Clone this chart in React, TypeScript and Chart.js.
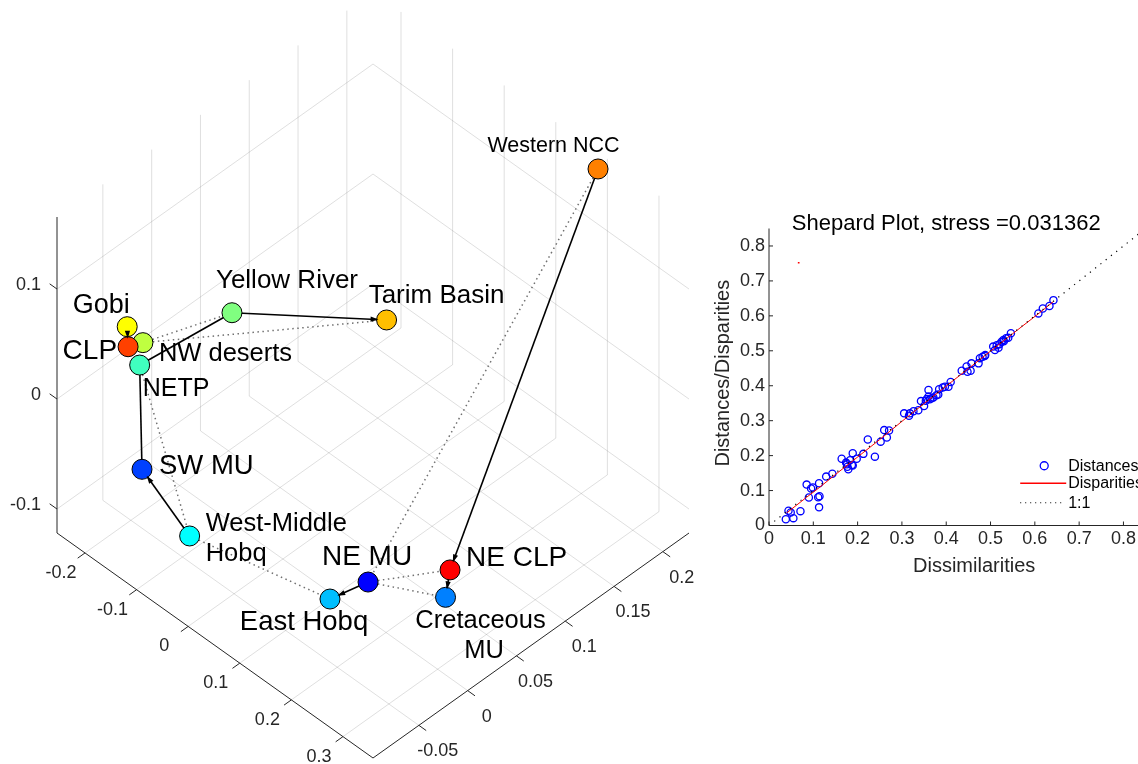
import React, { useEffect, useRef } from "react";
import { Chart, registerables } from "chart.js";
Chart.register(...registerables);

// ---------------- 3-D MDS configuration (left panel) ----------------
const siteNames = [
  "Gobi", "NW deserts", "CLP", "NETP", "Yellow River", "Tarim Basin", "Western NCC",
  "SW MU", "West-Middle Hobq", "East Hobq", "NE MU", "NE CLP", "Cretaceous MU",
];
const dim1 = [-0.16, -0.14, -0.15, -0.13, -0.12, -0.05, 0.19, -0.12, -0.05, 0.15, 0.16, 0.22, 0.23];
const dim2 = [-0.0749, -0.0694, -0.0793, -0.078, 0.0113, 0.1327, 0.2225, -0.0809, -0.0691, -0.031, 0.0027, 0.055, 0.0451];
const dim3 = [0.0833, 0.072, 0.0712, 0.0604, 0.0549, -0.005, 0.1557, -0.0292, -0.0739, -0.0885, -0.091, -0.093, -0.1083];

// links between sites (indices into siteNames)
const solidLinks = [[0, 2], [4, 3], [4, 5], [3, 7], [8, 7], [10, 9], [6, 11], [11, 12]];
const solidArrow = [true, false, true, false, true, true, true, true];
const dottedLinks = [[1, 4], [1, 5], [3, 8], [8, 9], [10, 11], [10, 12], [6, 10]];

const xTicks3d = [-0.2, -0.1, 0, 0.1, 0.2, 0.3];
const yTicks3d = [-0.05, 0, 0.05, 0.1, 0.15, 0.2];
const zTicks3d = [-0.1, 0, 0.1];
const xLim3d = [-0.2543, 0.3582];
const yLim3d = [-0.097, 0.2268];
const zLim3d = [-0.1218, 0.1655];

// styles
const siteColors = [
  "#FFFF00", "#BFFF40", "#FF4000", "#40FFBF", "#80FF80", "#FFBF00", "#FF8000",
  "#0040FF", "#00FFFF", "#00BFFF", "#0000FF", "#FF0000", "#0080FF",
];
const labelStyle: { size: number; align: CanvasTextAlign; wrap?: boolean; offs: number[][] }[] = [
  { size: 27, align: "center", offs: [[-26, -21]] },
  { size: 25.5, align: "left", offs: [[16, 11.5]] },
  { size: 28, align: "right", offs: [[-11, 5]] },
  { size: 25, align: "left", offs: [[3, 24]] },
  { size: 26, align: "center", offs: [[55, -32]] },
  { size: 26, align: "center", offs: [[50, -24]] },
  { size: 21.5, align: "center", offs: [[-44.5, -22.5]] },
  { size: 27.5, align: "left", offs: [[17, -3]] },
  { size: 25.5, align: "left", wrap: true, offs: [[16, -12.5], [16, 17.5]] },
  { size: 27.5, align: "center", offs: [[-26, 23]] },
  { size: 28, align: "center", offs: [[-1, -25]] },
  { size: 28, align: "left", offs: [[16, -12]] },
  { size: 25.5, align: "center", wrap: true, offs: [[35, 24], [38.5, 54]] },
];

// ---------------- Shepard plot (right panel) ----------------
const dissimilarities = [
  0.038, 0.044, 0.049, 0.055, 0.071, 0.085, 0.09, 0.095, 0.099, 0.111, 0.114, 0.113, 0.113,
  0.129, 0.143, 0.164, 0.174, 0.177, 0.179, 0.187, 0.189, 0.189, 0.198, 0.213, 0.223, 0.239,
  0.252, 0.26, 0.266, 0.271, 0.305, 0.316, 0.318, 0.326, 0.337, 0.343, 0.35, 0.354, 0.36,
  0.363, 0.367, 0.378, 0.382, 0.384, 0.392, 0.397, 0.405, 0.41, 0.435, 0.446, 0.448, 0.455,
  0.457, 0.473, 0.476, 0.482, 0.488, 0.506, 0.51, 0.514, 0.52, 0.525, 0.529, 0.535, 0.54,
  0.546, 0.608, 0.618, 0.633, 0.642, 0.518, 0.36, 0.371, 0.183, 0.487, 0.356, 0.176, 0.53,
];
const distances = [
  0.018, 0.042, 0.037, 0.021, 0.041, 0.117, 0.08, 0.106, 0.109, 0.081, 0.084, 0.052, 0.121,
  0.14, 0.148, 0.191, 0.18, 0.168, 0.161, 0.173, 0.207, 0.172, 0.191, 0.205, 0.246, 0.197,
  0.24, 0.273, 0.252, 0.272, 0.321, 0.314, 0.321, 0.327, 0.33, 0.356, 0.342, 0.357, 0.388,
  0.361, 0.364, 0.373, 0.375, 0.39, 0.395, 0.397, 0.397, 0.411, 0.443, 0.455, 0.44, 0.443,
  0.464, 0.464, 0.479, 0.483, 0.488, 0.512, 0.502, 0.516, 0.519, 0.526, 0.531, 0.536, 0.537,
  0.55, 0.607, 0.621, 0.628, 0.645, 0.509, 0.369, 0.366, 0.187, 0.485, 0.362, 0.175, 0.527,
];
const disparityX = [0.04, 0.085, 0.113, 0.15, 0.19, 0.25, 0.3, 0.35, 0.4, 0.45, 0.5, 0.55, 0.61, 0.642];
const disparityY = [0.036, 0.081, 0.108, 0.146, 0.186, 0.246, 0.298, 0.349, 0.399, 0.449, 0.499, 0.549, 0.608, 0.641];
const strayPoint = [0.067, 0.752];
const shepardLim = [0, 0.85];
const shepardXTicks = [0, 0.1, 0.2, 0.3, 0.4, 0.5, 0.6, 0.7, 0.8];
const shepardYTicks = [0, 0.1, 0.2, 0.3, 0.4, 0.5, 0.6, 0.7, 0.8];

const FONT = '"Liberation Sans", Arial, Helvetica, sans-serif';
const AXIS = "#262626";
const DEPTH = 225 / 316;

function proj(x: number, y: number, z: number) {
  const u = (x - xLim3d[0]) / (xLim3d[1] - xLim3d[0]);
  const v = (y - yLim3d[0]) / (yLim3d[1] - yLim3d[0]);
  const w = (z - zLim3d[0]) / (zLim3d[1] - zLim3d[0]);
  return { x: u + v, y: w + DEPTH * (v - u) };
}

function fmt(v: number) {
  if (Math.abs(v) < 1e-9) return "0";
  return String(v);
}

const frame3d = {
  id: "frame3d",
  beforeDatasetsDraw(chart: any) {
    const { ctx } = chart;
    const sx = chart.scales.x, sy = chart.scales.y;
    const P = (x: number, y: number, z: number) => {
      const p = proj(x, y, z);
      return [sx.getPixelForValue(p.x), sy.getPixelForValue(p.y)];
    };
    const line = (a: number[], b: number[]) => {
      ctx.beginPath();
      ctx.moveTo(a[0], a[1]);
      ctx.lineTo(b[0], b[1]);
      ctx.stroke();
    };
    const [x0, x1] = xLim3d, [y0, y1] = yLim3d, [z0, z1] = zLim3d;
    ctx.save();
    ctx.strokeStyle = "rgba(38,38,38,0.15)";
    ctx.lineWidth = 1;
    xTicks3d.forEach((t) => { line(P(t, y0, z0), P(t, y1, z0)); line(P(t, y1, z0), P(t, y1, z1)); });
    yTicks3d.forEach((t) => { line(P(x0, t, z0), P(x1, t, z0)); line(P(x0, t, z0), P(x0, t, z1)); });
    zTicks3d.forEach((t) => { line(P(x0, y0, t), P(x0, y1, t)); line(P(x0, y1, t), P(x1, y1, t)); });
    // axes
    ctx.strokeStyle = AXIS;
    ctx.lineWidth = 1;
    line(P(x0, y0, z0), P(x0, y0, z1));
    line(P(x0, y0, z0), P(x1, y0, z0));
    line(P(x1, y0, z0), P(x1, y1, z0));
    // ticks + labels
    ctx.fillStyle = AXIS;
    ctx.font = `18px ${FONT}`;
    ctx.textBaseline = "middle";
    const unit = (a: number[], b: number[], len: number) => {
      const dx = b[0] - a[0], dy = b[1] - a[1];
      const l = Math.hypot(dx, dy);
      return [(dx / l) * len, (dy / l) * len];
    };
    const dirMinusV = unit(P(x0, y1, z0), P(x0, y0, z0), 9);
    const dirPlusU = unit(P(x0, y0, z0), P(x1, y0, z0), 9);
    const dirMinusU = [-dirPlusU[0], -dirPlusU[1]];
    xTicks3d.forEach((t) => {
      const p = P(t, y0, z0);
      line(p, [p[0] + dirMinusV[0], p[1] + dirMinusV[1]]);
      ctx.textAlign = "center";
      ctx.fillText(fmt(t), p[0] - 24, p[1] + 20);
    });
    yTicks3d.forEach((t) => {
      const p = P(x1, t, z0);
      line(p, [p[0] + dirPlusU[0], p[1] + dirPlusU[1]]);
      ctx.textAlign = "center";
      ctx.fillText(fmt(t), p[0] + 19, p[1] + 26);
    });
    zTicks3d.forEach((t) => {
      const p = P(x0, y0, t);
      line(p, [p[0] + dirMinusU[0], p[1] + dirMinusU[1]]);
      ctx.textAlign = "right";
      ctx.fillText(fmt(t), p[0] - 16, p[1] - 4);
    });
    ctx.restore();
  },
  afterDatasetsDraw(chart: any) {
    const { ctx } = chart;
    const meta = chart.getDatasetMeta(0);
    const pix = meta.data.map((el: any) => [el.x, el.y]);
    ctx.save();
    // arrow heads
    ctx.fillStyle = "#000";
    solidLinks.forEach(([a, b], i) => {
      if (!solidArrow[i]) return;
      const p1 = pix[a], p2 = pix[b];
      const dx = p2[0] - p1[0], dy = p2[1] - p1[1];
      const l = Math.hypot(dx, dy);
      const ux = dx / l, uy = dy / l;
      const tip = [p2[0] - ux * 8, p2[1] - uy * 8];
      const base = [tip[0] - ux * 8, tip[1] - uy * 8];
      ctx.beginPath();
      ctx.moveTo(tip[0], tip[1]);
      ctx.lineTo(base[0] - uy * 2.6, base[1] + ux * 2.6);
      ctx.lineTo(base[0] + uy * 2.6, base[1] - ux * 2.6);
      ctx.closePath();
      ctx.fill();
    });
    // labels
    ctx.fillStyle = "#000";
    ctx.textBaseline = "middle";
    siteNames.forEach((name, i) => {
      const st = labelStyle[i];
      const parts = st.wrap ? [name.slice(0, name.lastIndexOf(" ")), name.slice(name.lastIndexOf(" ") + 1)] : [name];
      ctx.font = `${st.size}px ${FONT}`;
      ctx.textAlign = st.align;
      parts.forEach((txt, k) => {
        ctx.fillText(txt, pix[i][0] + st.offs[k][0], pix[i][1] + st.offs[k][1]);
      });
    });
    ctx.restore();
  },
};

const shepardFrame = {
  id: "shepardFrame",
  afterDatasetsDraw(chart: any) {
    const { ctx, chartArea } = chart;
    const sx = chart.scales.x, sy = chart.scales.y;
    const L = chartArea.left, B = chartArea.bottom;
    ctx.save();
    ctx.strokeStyle = AXIS;
    ctx.lineWidth = 1;
    ctx.beginPath();
    ctx.moveTo(L, chartArea.top);
    ctx.lineTo(L, B);
    ctx.lineTo(chartArea.right, B);
    ctx.stroke();
    ctx.fillStyle = AXIS;
    ctx.font = `18px ${FONT}`;
    ctx.textBaseline = "middle";
    shepardXTicks.forEach((t) => {
      const px = sx.getPixelForValue(t);
      ctx.beginPath(); ctx.moveTo(px, B); ctx.lineTo(px, B - 4); ctx.stroke();
      ctx.textAlign = "center";
      ctx.fillText(fmt(t), px, B + 14);
    });
    shepardYTicks.forEach((t) => {
      const py = sy.getPixelForValue(t);
      ctx.beginPath(); ctx.moveTo(L, py); ctx.lineTo(L + 4, py); ctx.stroke();
      ctx.textAlign = "right";
      ctx.fillText(fmt(t), L - 4, py);
    });
    // titles
    ctx.fillStyle = "#000";
    ctx.font = `22px ${FONT}`;
    ctx.textAlign = "center";
    ctx.fillText("Shepard Plot, stress =0.031362", sx.getPixelForValue(0.4), chartArea.top - 5);
    ctx.fillStyle = AXIS;
    ctx.font = `20px ${FONT}`;
    ctx.fillText("Dissimilarities", sx.getPixelForValue(0.463), B + 41);
    ctx.save();
    ctx.translate(L - 46, sy.getPixelForValue(0.436));
    ctx.rotate(-Math.PI / 2);
    ctx.fillText("Distances/Disparities", 0, 0);
    ctx.restore();
    // legend
    const lx = sx.getPixelForValue(0.567), ly = sy.getPixelForValue(0.171);
    ctx.font = `16px ${FONT}`;
    ctx.textAlign = "left";
    ctx.fillStyle = "#000";
    ctx.strokeStyle = "#0000ff";
    ctx.lineWidth = 1.3;
    ctx.beginPath(); ctx.arc(lx + 24, ly, 4, 0, Math.PI * 2); ctx.stroke();
    ctx.fillText("Distances", lx + 48, ly + 1);
    ctx.strokeStyle = "#ff0000";
    ctx.lineWidth = 1.5;
    ctx.beginPath(); ctx.moveTo(lx, ly + 17.6); ctx.lineTo(lx + 46, ly + 17.6); ctx.stroke();
    ctx.fillText("Disparities", lx + 48, ly + 18);
    ctx.strokeStyle = "#000";
    ctx.lineWidth = 1;
    ctx.setLineDash([1, 4]);
    ctx.beginPath(); ctx.moveTo(lx, ly + 37); ctx.lineTo(lx + 44, ly + 37); ctx.stroke();
    ctx.setLineDash([]);
    ctx.fillText("1:1", lx + 48, ly + 38);
    ctx.restore();
  },
};

export default function App() {
  const leftRef = useRef<HTMLCanvasElement>(null);
  const rightRef = useRef<HTMLCanvasElement>(null);

  useEffect(() => {
    const pts = siteNames.map((_, i) => proj(dim1[i], dim2[i], dim3[i]));
    const c1 = new Chart(leftRef.current as HTMLCanvasElement, {
      type: "scatter",
      data: {
        datasets: [
          {
            data: pts,
            pointRadius: 10,
            pointBackgroundColor: siteColors,
            pointBorderColor: "#000",
            pointBorderWidth: 1,
            showLine: false,
            order: 0,
          } as any,
          ...solidLinks.map(([a, b]) => ({
            data: [pts[a], pts[b]],
            showLine: true,
            borderColor: "#000",
            borderWidth: 1.6,
            pointRadius: 0,
            order: 1,
          })),
          ...dottedLinks.map(([a, b]) => ({
            data: [pts[a], pts[b]],
            showLine: true,
            borderColor: "#707070",
            borderWidth: 1.5,
            borderDash: [1.5, 3.5],
            pointRadius: 0,
            order: 2,
          })),
        ],
      },
      options: {
        animation: false,
        responsive: false,
        devicePixelRatio: 1,
        events: [],
        layout: { padding: 0, autoPadding: false },
        plugins: { legend: { display: false }, tooltip: { enabled: false } },
        scales: {
          x: { type: "linear", display: false, min: -57 / 316, max: (740 - 57) / 316 },
          y: { type: "linear", display: false, min: -(764 - 533) / 316, max: 533 / 316 },
        },
      } as any,
      plugins: [frame3d],
    });

    const c2 = new Chart(rightRef.current as HTMLCanvasElement, {
      type: "scatter",
      data: {
        datasets: [
          {
            data: [{ x: shepardLim[0], y: shepardLim[0] }, { x: shepardLim[1], y: shepardLim[1] }],
            showLine: true,
            borderColor: "#000",
            borderWidth: 1.2,
            borderDash: [1.2, 5.5],
            pointRadius: 0,
            order: 0,
          },
          {
            data: disparityX.map((x, i) => ({ x, y: disparityY[i] })),
            showLine: true,
            borderColor: "#ff0000",
            borderWidth: 1,
            pointRadius: 0,
            order: 1,
          },
          {
            data: dissimilarities.map((x, i) => ({ x, y: distances[i] })),
            pointRadius: 3.6,
            pointBorderColor: "#0000ff",
            pointBackgroundColor: "rgba(0,0,0,0)",
            pointBorderWidth: 1.3,
            order: 2,
          },
          {
            data: [{ x: strayPoint[0], y: strayPoint[1] }],
            pointStyle: "rect",
            pointRadius: 1.2,
            pointBackgroundColor: "#ff0000",
            pointBorderColor: "#ff0000",
            pointBorderWidth: 0,
            order: 3,
          },
        ] as any,
      },
      options: {
        animation: false,
        responsive: false,
        devicePixelRatio: 1,
        events: [],
        layout: { padding: { left: 69, top: 38.5, right: 34.4, bottom: 64.5 }, autoPadding: false },
        plugins: { legend: { display: false }, tooltip: { enabled: false } },
        scales: {
          x: { type: "linear", display: false, min: shepardLim[0], max: shepardLim[1] },
          y: { type: "linear", display: false, min: shepardLim[0], max: shepardLim[1] },
        },
      } as any,
      plugins: [shepardFrame],
    });

    return () => {
      c1.destroy();
      c2.destroy();
    };
  }, []);

  return (
    <div
      style={{
        position: "absolute",
        left: 0,
        top: 0,
        width: 1138,
        height: 764,
        overflow: "hidden",
        background: "#fff",
      }}
    >
      <canvas
        ref={leftRef}
        width={740}
        height={764}
        style={{ position: "absolute", left: 0, top: 0, width: 740, height: 764 }}
      />
      <canvas
        ref={rightRef}
        width={480}
        height={400}
        style={{ position: "absolute", left: 700, top: 190, width: 480, height: 400 }}
      />
    </div>
  );
}
